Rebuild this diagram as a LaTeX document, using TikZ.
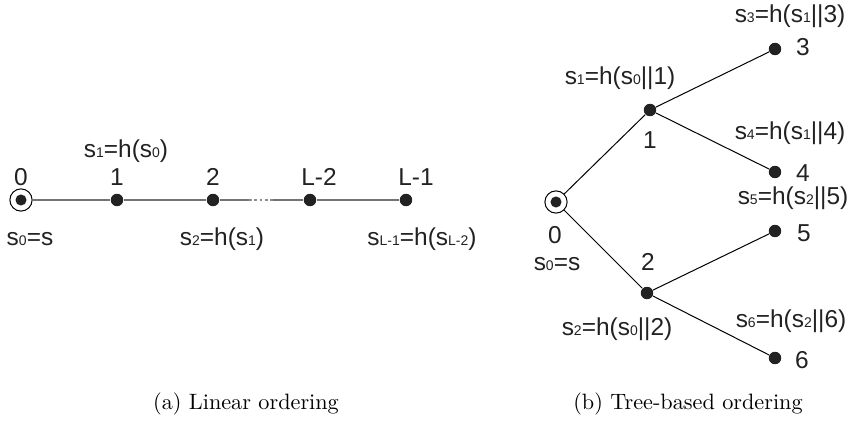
\documentclass[tikz,border=0pt]{standalone}
\usepackage{fontspec}
\newfontfamily\labelfont{Liberation Sans}
\usetikzlibrary{positioning}
\definecolor{ink}{HTML}{222222}
\newcommand{\sbs}[1]{{\fontsize{6.3}{7}\selectfont #1}}

\begin{document}
\begin{tikzpicture}[
    x=0.45pt, y=-0.45pt,
    font=\labelfont\fontsize{11}{13}\selectfont,
    text=ink,
    dot/.style      = {circle, fill=ink, minimum size=5.6pt, inner sep=0pt},
    root/.style     = {circle, draw, line width=0.45pt, minimum size=10pt,
                       inner sep=0pt,
                       path picture={\fill[ink] (path picture bounding box.center)
                                     circle (2.5pt);}},
    chain/.style    = {draw=black!55, line width=0.6pt},
    gap/.style      = {draw=black!45, line width=0.6pt,
                       dash pattern=on 1.2pt off 1.2pt},
    edge/.style     = {draw=black, line width=0.45pt},
    lbl/.style      = {inner sep=0pt, anchor=base},
    num/.style      = {inner sep=0pt, anchor=center},
    caption/.style  = {inner sep=0pt, anchor=base,
                       font=\rmfamily\fontsize{10}{12}\selectfont, text=black}
]
\useasboundingbox (0,0) rectangle (856,421);

% --- (a) Linear ordering ----------------------------------------------------
\node[root] (l0)  at (21,200)  {};
\node[dot]  (l1)  at (117,200) {};
\node[dot]  (l2)  at (213,200) {};
\node[dot]  (lL2) at (310,200) {};
\node[dot]  (lL1) at (406,200) {};
\coordinate (gapA) at (249,200);
\coordinate (gapB) at (273,200);

\node[num] at (21,177)  {0};
\node[num] at (117,177) {1};
\node[num] at (213,177) {2};
\node[num] at (319,177) {L-2};
\node[num] at (416,177) {L-1};

\node[lbl] at (126,158) {s\sbs{1}=h(s\sbs{0})};
\node[lbl] at (30,246)  {s\sbs{0}=s};
\node[lbl] at (222,246) {s\sbs{2}=h(s\sbs{1})};
\node[lbl] at (422,246) {s\sbs{L-1}=h(s\sbs{L-2})};

\draw[chain] (l0) -- (l1);
\draw[chain] (l1) -- (l2);
\draw[chain] (l2) -- (gapA);
\draw[gap]   (gapA) -- (gapB);
\draw[chain] (gapB) -- (lL2);
\draw[chain] (lL2) -- (lL1);

\node[caption] (capa) at (246,409) {(a) Linear ordering};

% --- (b) Tree-based ordering ------------------------------------------------
\node[root] (t0) at (556,202) {};
\node[dot]  (t1) at (650,110) {};
\node[dot]  (t2) at (647,293) {};
\node[dot]  (t3) at (775,49)  {};
\node[dot]  (t4) at (775,172) {};
\node[dot]  (t5) at (775,231) {};
\node[dot]  (t6) at (775,358) {};

\node[num] at (555,235) {0};
\node[num] at (650,140) {1};
\node[num] at (648,262) {2};
\node[num] at (803,47)  {3};
\node[num] at (803,173) {4};
\node[num] at (804,233) {5};
\node[num] at (802,360) {6};

\node[lbl] at (557,270) {s\sbs{0}=s};
\node[lbl] at (620,85)  {s\sbs{1}=h(s\sbs{0}||1)};
\node[lbl] at (617,335) {s\sbs{2}=h(s\sbs{0}||2)};
\node[lbl] at (790,23)  {s\sbs{3}=h(s\sbs{1}||3)};
\node[lbl] at (790,140) {s\sbs{4}=h(s\sbs{1}||4)};
\node[lbl] at (793,205) {s\sbs{5}=h(s\sbs{2}||5)};
\node[lbl] at (791,328) {s\sbs{6}=h(s\sbs{2}||6)};

\draw[edge] (t0) -- (t1);
\draw[edge] (t0) -- (t2);
\draw[edge] (t1) -- (t3);
\draw[edge] (t1) -- (t4);
\draw[edge] (t2) -- (t5);
\draw[edge] (t2) -- (t6);

\node[caption] (capb) at (688,409) {(b) Tree-based ordering};

\end{tikzpicture}
\end{document}
